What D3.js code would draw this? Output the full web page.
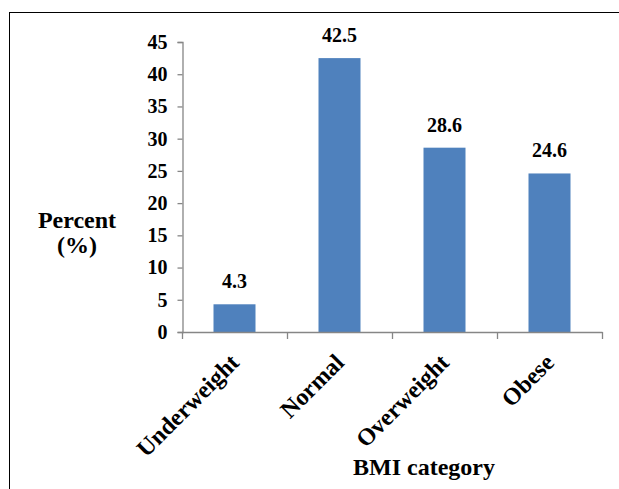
<!DOCTYPE html>
<html>
<head>
<meta charset="utf-8">
<script src="https://cdn.jsdelivr.net/npm/d3@7"></script>
<style>
  html, body { margin: 0; padding: 0; background: #fff; }
  svg { display: block; }
</style>
</head>
<body>
<script>
// BMI category distribution
const categories = ["Underweight", "Normal", "Overweight", "Obese"];
const percents = [4.3, 42.5, 28.6, 24.6];
const yTicks = [0, 5, 10, 15, 20, 25, 30, 35, 40, 45];

const W = 619, H = 489;
const FONT = '"Liberation Serif"';
const svg = d3.select("body").append("svg").attr("width", W).attr("height", H);

function styleText(sel, size) {
  return sel.style("font-family", FONT).style("font-weight", "bold")
    .style("font-size", size + "px").style("fill", "#000");
}

// chart frame
svg.append("rect")
  .attr("x", 9.5).attr("y", 12.5)
  .attr("width", W + 20).attr("height", H)
  .attr("fill", "none").attr("stroke", "#000").attr("stroke-width", 1);

const x0 = 182, x1 = 602, yTop = 42, yBot = 332;

const x = d3.scaleBand().domain(categories).range([x0, x1]).paddingInner(0.6).paddingOuter(0.3);
const xEdge = d3.scaleBand().domain(categories).range([x0, x1]);
const y = d3.scaleLinear().domain([0, 45]).range([yBot, yTop]);

const axisColor = "#868686";

// y axis
const yAxis = svg.append("g").attr("transform", `translate(${x0 + 0.5},0)`)
  .call(d3.axisLeft(y).tickValues(yTicks).tickSize(5).tickPadding(10).tickFormat(d3.format("d")));
yAxis.attr("font-family", null).attr("font-size", null);
yAxis.select(".domain").attr("stroke", axisColor).attr("stroke-width", 1.3);
yAxis.selectAll(".tick line").attr("stroke", axisColor).attr("stroke-width", 1.3);
styleText(yAxis.selectAll(".tick text"), 20);

// bars
svg.selectAll("rect.bar").data(percents).join("rect")
  .attr("class", "bar")
  .attr("x", (d, i) => x(categories[i]))
  .attr("width", x.bandwidth())
  .attr("y", d => y(d))
  .attr("height", d => y(0) - y(d))
  .attr("fill", "#4F81BD");

// x axis
const xg = svg.append("g");
xg.append("line")
  .attr("x1", x0).attr("x2", x1 + 0.5)
  .attr("y1", yBot + 0.5).attr("y2", yBot + 0.5)
  .attr("stroke", axisColor).attr("stroke-width", 1.3);
const edges = categories.map(c => xEdge(c)).concat([x1]);
xg.selectAll("line.tick").data(edges).join("line")
  .attr("class", "tick")
  .attr("x1", d => Math.round(d) + 0.5).attr("x2", d => Math.round(d) + 0.5)
  .attr("y1", yBot).attr("y2", yBot + 7)
  .attr("stroke", axisColor).attr("stroke-width", 1.3);

// rotated category labels
styleText(svg.selectAll("text.cat").data(categories).join("text"), 24)
  .attr("class", "cat")
  .attr("text-anchor", "end")
  .attr("transform", d => `translate(${x(d) + x.bandwidth() / 2 + 6},${yBot + 32}) rotate(-45)`)
  .text(d => d);

// value labels
styleText(svg.selectAll("text.val").data(percents).join("text"), 20)
  .attr("class", "val")
  .attr("text-anchor", "middle")
  .attr("x", (d, i) => x(categories[i]) + x.bandwidth() / 2)
  .attr("y", d => y(d) - 16)
  .text(d => d.toFixed(1));

// axis titles
const yt = styleText(svg.append("text"), 24).attr("text-anchor", "middle");
yt.append("tspan").attr("x", 77).attr("y", 228).text("Percent");
yt.append("tspan").attr("x", 77).attr("y", 253).text("(%)");

styleText(svg.append("text"), 24).attr("text-anchor", "middle")
  .attr("x", 424).attr("y", 475).text("BMI category");
</script>
</body>
</html>
